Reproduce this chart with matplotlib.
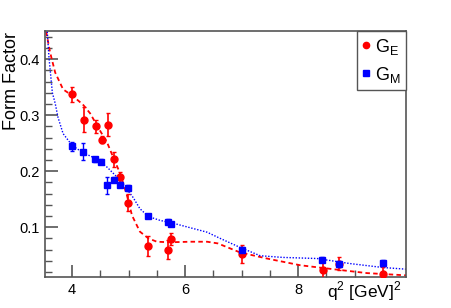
import matplotlib
matplotlib.use("Agg")
import matplotlib.pyplot as plt
from matplotlib.lines import Line2D
from matplotlib.ticker import MultipleLocator

plt.rcParams["font.family"] = ["Liberation Sans", "DejaVu Sans"]
plt.rcParams["mathtext.fontset"] = "custom"
plt.rcParams["mathtext.rm"] = "Liberation Sans"

# G_E data points
ge_q2 = [4.00, 4.21, 4.42, 4.53, 4.63, 4.74, 4.84, 4.99, 5.35, 5.70, 5.75, 7.01, 8.44, 8.72, 9.50]
ge_val = [0.337, 0.292, 0.280, 0.256, 0.283, 0.221, 0.189, 0.144, 0.066, 0.060, 0.079, 0.052, 0.023, 0.035, 0.017]
ge_err = [0.013, 0.022, 0.012, 0.006, 0.020, 0.013, 0.010, 0.015, 0.018, 0.017, 0.010, 0.016, 0.015, 0.012, 0.012]

# G_M data points
gm_q2 = [4.00, 4.20, 4.41, 4.51, 4.62, 4.74, 4.84, 4.99, 5.35, 5.70, 5.75, 7.01, 8.43, 8.73, 9.51]
gm_val = [0.244, 0.235, 0.221, 0.217, 0.175, 0.185, 0.176, 0.170, 0.120, 0.110, 0.106, 0.060, 0.042, 0.034, 0.036]
gm_err = [0.008, 0.015, 0.005, 0.004, 0.015, 0.005, 0.005, 0.005, 0.004, 0.004, 0.004, 0.005, 0.004, 0.006, 0.005]

# fit curves
ge_fit_q2 = [3.54, 3.61, 3.70, 3.84, 4.00, 4.19, 4.32, 4.46, 4.62, 4.73, 4.85, 4.97, 5.06, 5.20,
             5.35, 5.50, 5.73, 6.09, 6.39, 6.58, 6.97, 7.45, 8.04, 8.62, 9.22, 9.91]
ge_fit_val = [0.449, 0.412, 0.376, 0.346, 0.335, 0.319, 0.303, 0.278, 0.251, 0.224, 0.196, 0.157, 0.121, 0.092,
              0.080, 0.074, 0.073, 0.074, 0.074, 0.071, 0.055, 0.044, 0.032, 0.025, 0.018, 0.014]
gm_fit_q2 = [3.56, 3.59, 3.65, 3.70, 3.75, 3.84, 4.00, 4.19, 4.41, 4.62, 4.85, 5.08, 5.20, 5.35, 5.56,
             5.79, 6.09, 6.39, 6.62, 6.97, 7.33, 7.73, 8.34, 8.92, 9.50, 9.91]
gm_fit_val = [0.449, 0.403, 0.340, 0.321, 0.296, 0.267, 0.246, 0.233, 0.223, 0.207, 0.184, 0.153, 0.133, 0.119, 0.112,
              0.107, 0.099, 0.091, 0.080, 0.064, 0.049, 0.046, 0.044, 0.035, 0.028, 0.025]

RED = "#ff0000"
BLUE = "#0000ff"
FRAME = "#555555"

fig = plt.figure(figsize=(4.52, 3.08), dpi=100)
ax = fig.add_axes([0.0996, 0.1006, 0.7984, 0.7984])

ax.plot(ge_fit_q2, ge_fit_val, color=RED, lw=1.3, dashes=(2.5, 1.8), zorder=2)
ax.plot(gm_fit_q2, gm_fit_val, color=BLUE, lw=1.0, dashes=(1, 1.2), zorder=2)

ax.errorbar(ge_q2, ge_val, yerr=ge_err, fmt="o", color=RED, ms=5, elinewidth=1.2,
            capsize=1.5, capthick=1.0, zorder=3)
ax.errorbar(gm_q2, gm_val, yerr=gm_err, fmt="s", color=BLUE, ms=5, elinewidth=1.0,
            capsize=1.5, capthick=1.0, zorder=4)

ax.set_xlim(3.52, 9.91)
ax.set_ylim(0.011, 0.45)
ax.xaxis.set_major_locator(MultipleLocator(2))
ax.xaxis.set_minor_locator(MultipleLocator(0.5))
ax.yaxis.set_major_locator(MultipleLocator(0.1))
ax.yaxis.set_minor_locator(MultipleLocator(0.02))
ax.tick_params(which="both", direction="in", colors=FRAME, labelcolor="black",
               labelsize=10.5, top=False, right=False)
ax.tick_params(which="major", length=9, width=1.2)
ax.tick_params(which="minor", length=5, width=1.0)
ax.tick_params(axis="x", pad=4)
for s in ax.spines.values():
    s.set_color(FRAME)
    s.set_linewidth(1.2)

# axis titles, ROOT style (aligned to the top / right end)
fig.text(12 / 452, 1 - 32 / 308, "Form Factor", fontsize=13, rotation=90, ha="center", va="top")
fig.text(402 / 452, 1 - 303 / 308, "q$^{\\mathregular{2}}$ [GeV]$^{\\mathregular{2}}$",
         fontsize=12.5, ha="right", va="bottom")

handles = [
    Line2D([], [], ls="none", marker="o", color=RED, ms=4.5, label="G$_{\\mathregular{E}}$"),
    Line2D([], [], ls="none", marker="s", color=BLUE, ms=4.5, label="G$_{\\mathregular{M}}$"),
]
leg = ax.legend(handles=handles, loc="upper right", borderaxespad=0, fancybox=False, fontsize=13,
                handlelength=0.4, handletextpad=0.3, borderpad=0.3, labelspacing=0.45,
                frameon=True, framealpha=1)
leg.get_frame().set_edgecolor(FRAME)
leg.get_frame().set_linewidth(1.0)

fig.savefig("out.png", dpi=100)
